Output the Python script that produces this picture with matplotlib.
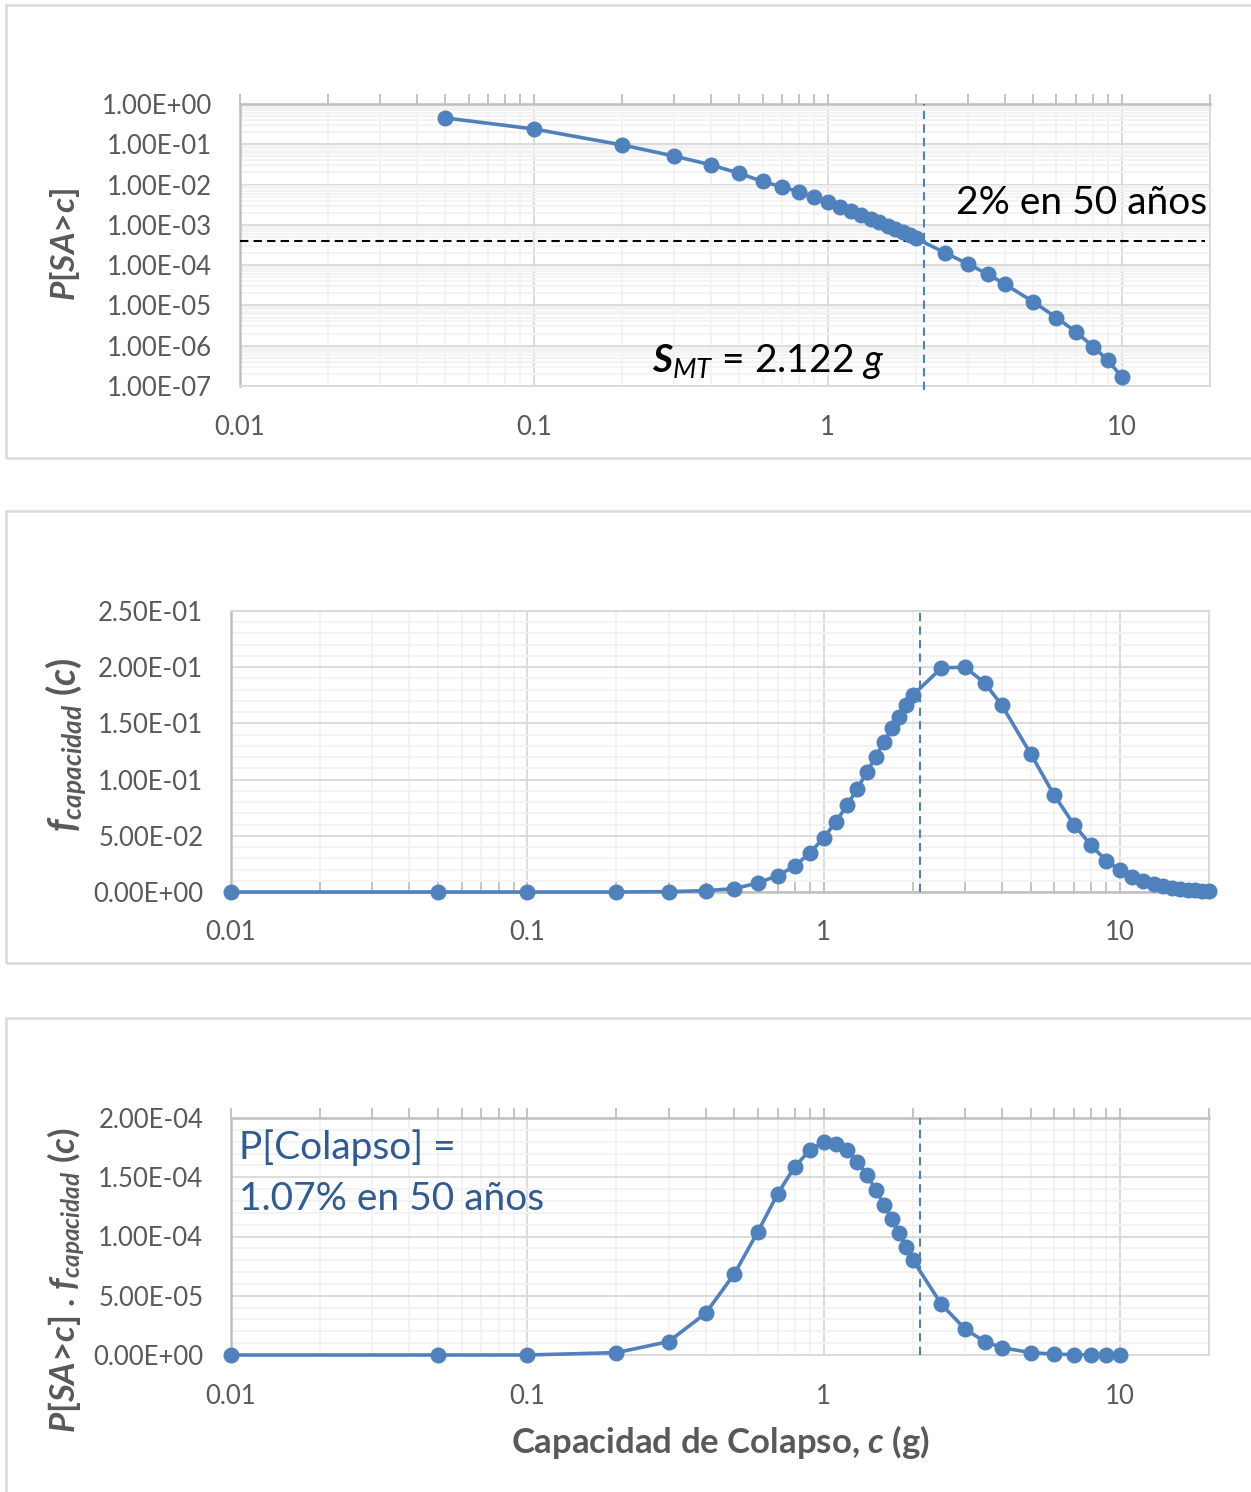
import numpy as np
import matplotlib
matplotlib.use("Agg")
import matplotlib.pyplot as plt
from matplotlib.patches import Rectangle
from matplotlib.ticker import FuncFormatter, FixedLocator, MultipleLocator, LogLocator

plt.rcParams['font.family'] = ['Lato', 'DejaVu Sans']
plt.rcParams['mathtext.fontset'] = 'custom'
plt.rcParams['mathtext.rm'] = 'Lato'
plt.rcParams['mathtext.it'] = 'Lato:italic'
plt.rcParams['mathtext.bf'] = 'Lato:bold:italic'

# curva de amenaza
c_haz = [0.05, 0.1, 0.2, 0.3, 0.4, 0.5, 0.6, 0.7, 0.8, 0.9,
         1.0, 1.1, 1.2, 1.3, 1.4, 1.5, 1.6, 1.7, 1.8, 1.9, 2.0,
         2.5, 3, 3.5, 4, 5, 6, 7, 8, 9, 10]
p_haz = [0.45, 0.24, 0.096, 0.051, 0.031, 0.019, 0.012, 0.0087, 0.0066, 0.0049,
         0.0036, 0.00285, 0.00224, 0.00177, 0.00143, 0.00116, 0.00095, 0.00079, 0.00066, 0.00055, 0.00046,
         2.05e-4, 1.07e-4, 6.0e-5, 3.4e-5, 1.24e-5, 5.0e-6, 2.2e-6, 9.5e-7, 4.3e-7, 1.7e-7]

# densidad de la capacidad
c_cap = [0.01, 0.05, 0.1, 0.2, 0.3, 0.4, 0.5, 0.6, 0.7, 0.8, 0.9,
         1.0, 1.1, 1.2, 1.3, 1.4, 1.5, 1.6, 1.7, 1.8, 1.9, 2.0,
         2.5, 3, 3.5, 4, 5, 6, 7, 8, 9, 10,
         11, 12, 13, 14, 15, 16, 17, 18, 19, 20]
f_cap = [0, 0, 0, 0.0, 0.0003, 0.0012, 0.003, 0.008, 0.0146, 0.023, 0.035,
         0.048, 0.0625, 0.077, 0.092, 0.1065, 0.1205, 0.1336, 0.1455, 0.156, 0.166, 0.175,
         0.1994, 0.2, 0.186, 0.166, 0.123, 0.0863, 0.060, 0.0414, 0.028, 0.0193,
         0.0134, 0.0098, 0.0068, 0.005, 0.0036, 0.0027, 0.002, 0.0015, 0.0011, 0.0008]

# producto
c_prod = [0.01, 0.05, 0.1, 0.2, 0.3, 0.4, 0.5, 0.6, 0.7, 0.8, 0.9,
          1.0, 1.1, 1.2, 1.3, 1.4, 1.5, 1.6, 1.7, 1.8, 1.9, 2.0,
          2.5, 3, 3.5, 4, 5, 6, 7, 8, 9, 10]
prod = [0, 0, 0, 2e-6, 1.13e-5, 3.52e-5, 6.85e-5, 1.04e-4, 1.36e-4, 1.59e-4, 1.73e-4,
        1.795e-4, 1.78e-4, 1.727e-4, 1.628e-4, 1.52e-4, 1.394e-4, 1.268e-4, 1.146e-4, 1.028e-4, 9.1e-5, 8.03e-5,
        4.28e-5, 2.2e-5, 1.13e-5, 6.2e-6, 2e-6, 8e-7, 3e-7, 1e-7, 0, 0]

s_mt = 2.122
p_2en50 = 4.04e-4
x_ticks = [0.01, 0.1, 1, 10]

BLUE = '#4F81BD'
GREY = '#595959'
MAJ = '#D9D9D9'
MIN = '#F2F2F2'

W, H = 1251, 1492
fig = plt.figure(figsize=(W / 100, H / 100), dpi=100)


def rect(l, r, t, b):
    return [l / W, 1 - b / H, (r - l) / W, (b - t) / H]


# cajas de los graficos
for t, b in [(5, 458), (511, 963), (1018, 1520)]:
    fig.add_artist(Rectangle((6 / W, 1 - b / H), 1.2, (b - t) / H, transform=fig.transFigure,
                             fill=False, edgecolor=MAJ, lw=1.8))

ax1 = fig.add_axes(rect(240, 1210, 104, 386))
ax2 = fig.add_axes(rect(231, 1209, 611, 892))
ax3 = fig.add_axes(rect(231, 1209, 1118, 1355))

xfmt = FuncFormatter(lambda v, p: '%g' % v)
yfmt = FuncFormatter(lambda v, p: '%.2E' % v)


def style(ax, tick_side):
    ax.set_xscale('log')
    ax.set_xlim(0.01, 20)
    ax.xaxis.set_major_locator(FixedLocator(x_ticks))
    ax.xaxis.set_minor_locator(LogLocator(base=10, subs=np.arange(2, 10)))
    ax.xaxis.set_major_formatter(xfmt)
    ax.xaxis.set_minor_formatter(FuncFormatter(lambda v, p: ''))
    ax.yaxis.set_major_formatter(yfmt)
    ax.grid(which='major', color=MAJ, lw=1.3, zorder=0)
    ax.grid(which='minor', color=MIN, lw=1.3, zorder=0)
    ax.set_axisbelow(True)
    for s in ax.spines.values():
        s.set_color(MAJ)
        s.set_linewidth(1.3)
    ax.spines['left'].set_color('#BFBFBF')
    ax.spines['left'].set_linewidth(1.8)
    ax.tick_params(axis='y', which='both', length=0, labelsize=18.5, labelcolor=GREY, pad=20)
    if tick_side == 'top':
        ax.spines['top'].set_color('#BFBFBF')
        ax.spines['top'].set_linewidth(1.8)
        ax.tick_params(axis='x', which='both', bottom=False, top=True, direction='out',
                       length=7, width=1.3, color='#BFBFBF')
        lab_pad = 14
    else:
        ax.spines['bottom'].set_color('#BFBFBF')
        ax.spines['bottom'].set_linewidth(1.8)
        ax.tick_params(axis='x', which='both', bottom=True, top=False, direction='in',
                       length=7, width=1.3, color='#BFBFBF')
        lab_pad = 20
    ax.tick_params(axis='x', which='major', labelbottom=True, labeltop=False,
                   labelsize=18.5, labelcolor=GREY, pad=lab_pad)


# panel 1
style(ax1, 'top')
ax1.set_yscale('log')
ax1.set_ylim(1e-7, 1)
ax1.yaxis.set_major_locator(FixedLocator([10.0 ** k for k in range(-7, 1)]))
ax1.yaxis.set_minor_locator(LogLocator(base=10, subs=np.arange(2, 10), numticks=20))
ax1.yaxis.set_major_formatter(yfmt)
ax1.yaxis.set_minor_formatter(FuncFormatter(lambda v, p: ''))
ax1.tick_params(axis='y', which='both', length=0)
ax1.plot(c_haz, p_haz, color=BLUE, lw=2.6, marker='o', ms=10.5, zorder=5)
ax1.axhline(p_2en50, xmin=0, xmax=0.995, color='black', lw=1.5, ls=(0, (4, 2.5)), zorder=4)
ax1.axvline(s_mt, ymin=-0.015, ymax=1, color=BLUE, lw=1.5, ls=(0, (4, 2.5)), zorder=4, clip_on=False)
ax1.text(0.997, 0.649, '2% en 50 años', transform=ax1.transAxes, ha='right', va='center',
         fontsize=28, color='black')
ax1.text(0.425, 0.088, r'$\mathbf{S}_{MT}$ = 2.122 $g$', transform=ax1.transAxes, ha='left',
         va='center', fontsize=28, color='black')
fig.text(65 / W, 1 - 245 / H, r'$\mathbf{P}$[$\mathbf{SA}$>$\mathbf{c}$]', rotation=90,
         ha='center', va='center', fontsize=24, fontweight='bold', color=GREY)

# panel 2
style(ax2, 'bottom')
ax2.set_ylim(0, 0.25)
ax2.yaxis.set_major_locator(MultipleLocator(0.05))
ax2.yaxis.set_minor_locator(MultipleLocator(0.01))
ax2.tick_params(axis='y', which='both', length=0)
ax2.plot(c_cap, f_cap, color=BLUE, lw=2.6, marker='o', ms=10.5, zorder=5, clip_on=False)
ax2.axvline(s_mt, color=BLUE, lw=1.5, ls=(0, (4, 2.5)), zorder=4)
fig.text(66 / W, 1 - 745 / H, r'$\mathbf{f_{capacidad}}$ ($\mathbf{c}$)', rotation=90,
         ha='center', va='center', fontsize=27, fontweight='bold', color=GREY)

# panel 3
style(ax3, 'top')
ax3.set_ylim(0, 2e-4)
ax3.yaxis.set_major_locator(MultipleLocator(5e-5))
ax3.yaxis.set_minor_locator(MultipleLocator(1e-5))
ax3.tick_params(axis='y', which='both', length=0)
ax3.plot(c_prod, prod, color=BLUE, lw=2.6, marker='o', ms=10.5, zorder=5, clip_on=False)
ax3.axvline(s_mt, color=BLUE, lw=1.5, ls=(0, (4, 2.5)), zorder=4)
ax3.text(0.008, 0.873, 'P[Colapso] =', transform=ax3.transAxes, ha='left', va='center',
         fontsize=28, color='#2F5B92')
ax3.text(0.008, 0.658, '1.07% en 50 años', transform=ax3.transAxes, ha='left', va='center',
         fontsize=28, color='#2F5B92')
fig.text(66 / W, 1 - 1280 / H,
         r'$\mathbf{P}$[$\mathbf{SA}$>$\mathbf{c}$] . $\mathbf{f_{capacidad}}$ ($\mathbf{c}$)',
         rotation=90, ha='center', va='center', fontsize=25, fontweight='bold', color=GREY)
fig.text(720 / W, 1 - 1442 / H, r'Capacidad de Colapso, $\mathbf{c}$ (g)', ha='center', va='center',
         fontsize=25, fontweight='bold', color=GREY)

fig.savefig('out.png', dpi=100, facecolor='white')
